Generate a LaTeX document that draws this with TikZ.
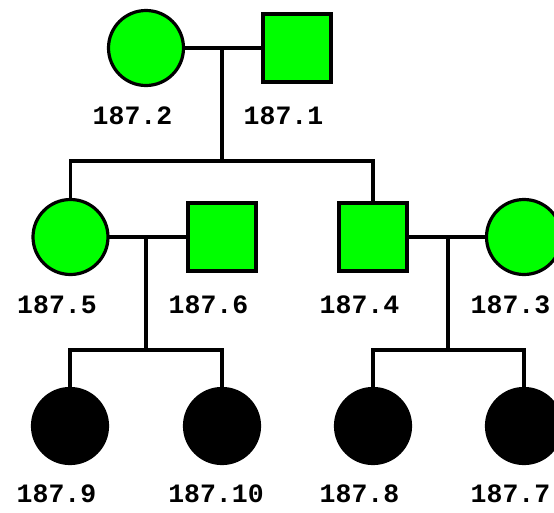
\documentclass[tikz,border=0pt]{standalone}
\usepackage{fontspec}
\setmonofont{Liberation Mono}
\definecolor{ped-green}{HTML}{00FF00}

\begin{document}
\begin{tikzpicture}[x=1pt, y=-1pt,
      every node/.style={inner sep=0pt, outer sep=0pt},
      female/.style={circle, draw=black, line width=3.2pt, fill=ped-green, minimum size=75pt},
      male/.style={rectangle, draw=black, line width=3.2pt, fill=ped-green, minimum size=68pt},
      affected/.style={fill=black},
      tag/.style={font=\ttfamily\bfseries\fontsize{26.5}{29}\selectfont},
      link/.style={line width=3.4pt}]
    \clip (0,0) rectangle (554,512);
    \useasboundingbox (0,0) rectangle (554,512);
    % first generation
    \node[female] (p2) at (146,48) {};
    \node[male]   (p1) at (297,48) {};
    \node[tag] (l2) at (132.5,116) {187.2};
    \node[tag] (l1) at (283.5,116) {187.1};
    % second generation
    \node[female] (p5) at (70.5,237) {};
    \node[male]   (p6) at (222,237) {};
    \node[male]   (p4) at (373,237) {};
    \node[female] (p3) at (524,237) {};
    \node[tag] (l5) at (57,305) {187.5};
    \node[tag] (l6) at (208.5,305) {187.6};
    \node[tag] (l4) at (359.5,305) {187.4};
    \node[tag] (l3) at (510.5,305) {187.3};
    % third generation
    \node[female, affected] (p9)  at (70,426) {};
    \node[female, affected] (p10) at (222,426) {};
    \node[female, affected] (p8)  at (373,426) {};
    \node[female, affected] (p7)  at (524,426) {};
    \node[tag] (l9)  at (56.5,494) {187.9};
    \node[tag] (l10) at (216,494) {187.10};
    \node[tag] (l8)  at (359.5,494) {187.8};
    \node[tag] (l7)  at (510.5,494) {187.7};
    % couples and children
    \coordinate (m21) at (222,48);
    \coordinate (s21) at (222,161);
    \coordinate (m56) at (146,237);
    \coordinate (s56) at (146,350);
    \coordinate (m43) at (448,237);
    \coordinate (s43) at (448,350);
    \draw[link] (p2) -- (p1);
    \draw[link] (m21) -- (s21);
    \draw[link] (p5) |- (s21) -| (p4);
    \draw[link] (p5) -- (p6);
    \draw[link] (m56) -- (s56);
    \draw[link] (p9) |- (s56) -| (p10);
    \draw[link] (p4) -- (p3);
    \draw[link] (m43) -- (s43);
    \draw[link] (p8) |- (s43) -| (p7);
  \end{tikzpicture}
\end{document}
